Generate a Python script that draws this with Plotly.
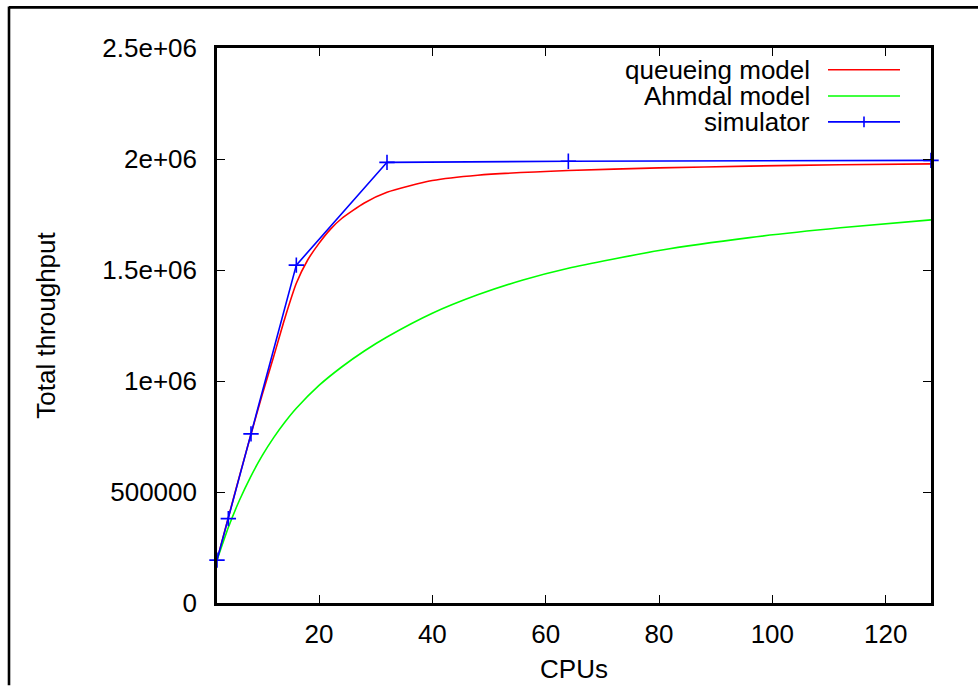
import plotly.graph_objects as go

# ---- data ----
cpus_queue = [2, 4, 6, 8, 10, 12, 14, 16, 18, 20, 22, 24, 28, 32, 40, 48, 64, 80, 96, 112, 128]
queue_tput = [193000, 385000, 575000, 760000, 940000, 1110000, 1285000, 1440000, 1545000,
              1620000, 1683000, 1732000, 1802000, 1850000, 1903000, 1927000, 1948000,
              1960000, 1968000, 1974000, 1978000]

cpus_ahmdal = [2, 4, 6, 8, 10, 12, 14, 16, 20, 24, 28, 32, 40, 48, 56, 64, 80, 96, 112, 128]
ahmdal_tput = [193000, 340000, 465000, 572000, 665000, 745000, 815000, 877000, 980000,
               1063000, 1135000, 1198000, 1305000, 1388000, 1455000, 1508000, 1588000,
               1646000, 1690000, 1726000]

cpus_sim = [2, 4, 8, 16, 32, 64, 128]
sim_tput = [193000, 380000, 762000, 1522000, 1985000, 1990000, 1994000]

x_ticks = [20, 40, 60, 80, 100, 120]
y_ticks = [0, 500000, 1000000, 1500000, 2000000, 2500000]
y_tick_labels = ["0", "500000", "1e+06", "1.5e+06", "2e+06", "2.5e+06"]

legend_names = ["queueing model", "Ahmdal model", "simulator"]
legend_colors = ["#ff0000", "#00ff00", "#0000ff"]

FONT = "Liberation Sans, Arial, sans-serif"

fig = go.Figure()
fig.add_trace(go.Scatter(x=cpus_queue, y=queue_tput, mode="lines", name=legend_names[0],
                         line=dict(color=legend_colors[0], width=1.6, shape="spline", smoothing=0.6)))
fig.add_trace(go.Scatter(x=cpus_ahmdal, y=ahmdal_tput, mode="lines", name=legend_names[1],
                         line=dict(color=legend_colors[1], width=1.6, shape="spline", smoothing=0.6)))
fig.add_trace(go.Scatter(x=cpus_sim, y=sim_tput, mode="lines+markers", name=legend_names[2],
                         line=dict(color=legend_colors[2], width=1.6),
                         marker=dict(symbol="cross-thin", size=11,
                                     line=dict(color=legend_colors[2], width=1.6)),
                         cliponaxis=False))

W, H = 978, 691
ML, MR, MT, MB = 217, 47, 48, 83
PW, PH = W - ML - MR, H - MT - MB


def px(xp):
    return (xp - ML) / PW


def py(yp):
    return (H - MB - yp) / PH


shapes = []
annotations = []
# outer frame: only its top and left edges fall inside the image
shapes.append(dict(type="line", xref="paper", yref="paper",
                   x0=px(9), x1=px(W), y0=py(7), y1=py(7),
                   line=dict(color="black", width=2.6), layer="above"))
shapes.append(dict(type="line", xref="paper", yref="paper",
                   x0=px(9), x1=px(9), y0=py(6), y1=py(H),
                   line=dict(color="black", width=2.6), layer="above"))

# gnuplot-style key: right-aligned text with the line sample to its right
rows_y = [70, 96.5, 122.5]
for name, color, ry in zip(legend_names, legend_colors, rows_y):
    annotations.append(dict(xref="paper", yref="paper", x=px(811), y=py(ry),
                            xanchor="right", yanchor="middle", showarrow=False,
                            borderpad=0,
                            text=name, font=dict(family=FONT, size=26, color="black")))
    shapes.append(dict(type="line", xref="paper", yref="paper",
                       x0=px(828), x1=px(900), y0=py(ry), y1=py(ry),
                       line=dict(color=color, width=1.6)))
# cross on the simulator sample
shapes.append(dict(type="line", xref="paper", yref="paper",
                   x0=px(864), x1=px(864), y0=py(rows_y[2] - 5.5), y1=py(rows_y[2] + 5.5),
                   line=dict(color=legend_colors[2], width=1.6)))

axis_common = dict(showline=True, linecolor="black", linewidth=2.6, mirror="ticks",
                   ticks="inside", ticklen=8, tickwidth=1.4, tickcolor="black",
                   showgrid=False, zeroline=False,
                   tickfont=dict(family=FONT, size=26, color="black"))

fig.update_layout(
    width=W, height=H, autosize=False,
    margin=dict(l=ML, r=MR, t=MT, b=MB, pad=0),
    paper_bgcolor="white", plot_bgcolor="white",
    showlegend=False,
    shapes=shapes, annotations=annotations,
    xaxis=dict(range=[2, 128], tickvals=x_ticks, ticktext=[str(v) for v in x_ticks],
               ticklabelstandoff=6,
               title=dict(text="CPUs", font=dict(family=FONT, size=26, color="black"),
                          standoff=12),
               **axis_common),
    yaxis=dict(range=[0, 2500000], tickvals=y_ticks, ticktext=y_tick_labels,
               ticklabelstandoff=12,
               title=dict(text="Total throughput", font=dict(family=FONT, size=26, color="black"),
                          standoff=40),
               **axis_common),
)

post = (
    "var de=document.documentElement, b=document.body;"
    "de.style.margin='0'; de.style.padding='0'; de.style.overflow='hidden';"
    "b.style.margin='0'; b.style.padding='0'; b.style.overflow='hidden';"
    "var g=document.getElementById('{plot_id}');"
    "var w=g.parentElement; w.style.position='fixed'; w.style.top='0'; w.style.left='0';"
    "w.style.margin='0'; w.style.padding='0';"
)

fig.write_html("out.html",
               config={"displayModeBar": False, "responsive": False},
               post_script=post)
